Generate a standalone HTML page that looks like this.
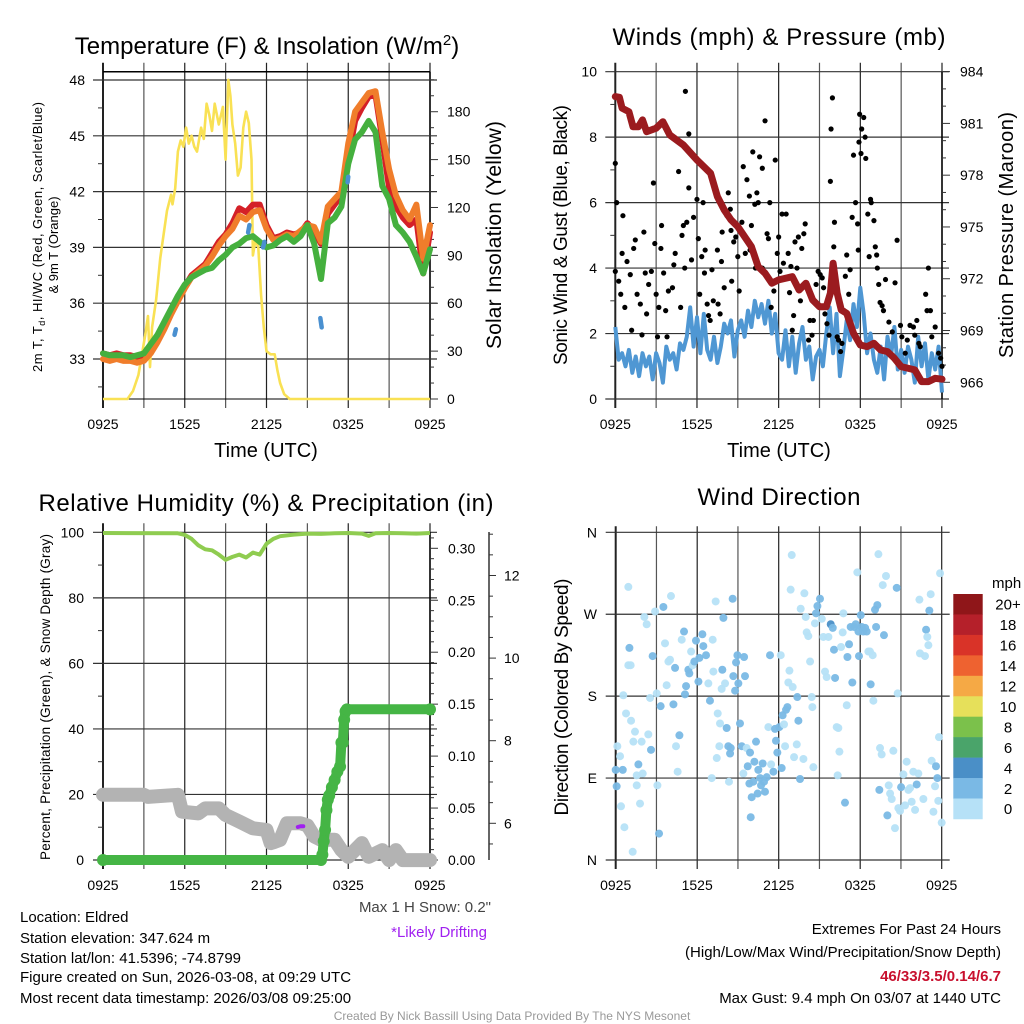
<!DOCTYPE html>
<html><head><meta charset="utf-8">
<style>
html,body{margin:0;padding:0;background:#fff;}
svg{display:block;font-family:"Liberation Sans",Arial,sans-serif;}
</style></head>
<body>
<svg id="fig" width="1024" height="1024" viewBox="0 0 1024 1024" xmlns="http://www.w3.org/2000/svg">
<rect width="1024" height="1024" fill="#fff"/>
<!-- titles -->
<text x="267" y="54" font-size="24" text-anchor="middle">Temperature (F) &amp; Insolation (W/m<tspan dy="-9" font-size="15">2</tspan><tspan dy="9">)</tspan></text>
<text x="779" y="45" font-size="24" text-anchor="middle" textLength="333">Winds (mph) &amp; Pressure (mb)</text>
<text x="266" y="511" font-size="24" text-anchor="middle" textLength="455">Relative Humidity (%) &amp; Precipitation (in)</text>
<text x="779" y="505" font-size="24" text-anchor="middle" textLength="163">Wind Direction</text>
<!-- axis titles -->
<text x="266" y="457" font-size="20" text-anchor="middle">Time (UTC)</text>
<text x="779" y="457" font-size="20" text-anchor="middle">Time (UTC)</text>
<text transform="translate(42,237) rotate(-90)" font-size="13" text-anchor="middle" textLength="270">2m T, T<tspan font-size="9" dy="3">d</tspan><tspan dy="-3">, HI/WC (Red, Green, Scarlet/Blue)</tspan></text>
<text transform="translate(58,245) rotate(-90)" font-size="13" text-anchor="middle">&amp; 9m T (Orange)</text>
<text transform="translate(501,235) rotate(-90)" font-size="21" text-anchor="middle" textLength="228">Solar Insolation (Yellow)</text>
<text transform="translate(567,235) rotate(-90)" font-size="19" text-anchor="middle" textLength="260">Sonic Wind &amp; Gust (Blue, Black)</text>
<text transform="translate(1013,235) rotate(-90)" font-size="20" text-anchor="middle" textLength="246">Station Pressure (Maroon)</text>
<text transform="translate(50,697) rotate(-90)" font-size="13.5" text-anchor="middle" textLength="326">Percent, Precipitation (Green), &amp; Snow Depth (Gray)</text>
<text transform="translate(568,697) rotate(-90)" font-size="19" text-anchor="middle" textLength="237">Direction (Colored By Speed)</text>
<!-- footer text -->
<g font-size="15" fill="#000">
<text x="20" y="922">Location: Eldred</text>
<text x="20" y="943">Station elevation: 347.624 m</text>
<text x="20" y="963">Station lat/lon: 41.5396; -74.8799</text>
<text x="20" y="982">Figure created on Sun, 2026-03-08, at 09:29 UTC</text>
<text x="20" y="1003">Most recent data timestamp: 2026/03/08 09:25:00</text>
<text x="491" y="912" text-anchor="end" fill="#444">Max 1 H Snow: 0.2"</text>
<text x="487" y="937" text-anchor="end" fill="#a020f0">*Likely Drifting</text>
<text x="1001" y="934" text-anchor="end">Extremes For Past 24 Hours</text>
<text x="1001" y="957" text-anchor="end">(High/Low/Max Wind/Precipitation/Snow Depth)</text>
<text x="1001" y="981" text-anchor="end" fill="#c8102e" font-weight="bold">46/33/3.5/0.14/6.7</text>
<text x="1001" y="1003" text-anchor="end">Max Gust: 9.4 mph On 03/07 at 1440 UTC</text>
</g>
<text x="512" y="1020" font-size="12" fill="#999" text-anchor="middle">Created By Nick Bassill Using Data Provided By The NYS Mesonet</text>
</svg>
<script>
// ===== data =====
const xTickLabels = ["0925","1525","2125","0325","0925"];
const halfHours = Array.from({length:49},(_,i)=>i*0.5);
const temp2m = [33.3,33.2,33.3,33.2,33.2,33.1,33.2,33.6,34.2,34.9,35.6,36.3,36.9,37.5,37.8,38.1,38.7,39.3,39.7,40.3,41.1,40.9,41.3,41.3,40.2,39.5,39.6,39.8,39.7,39.8,40.3,39.9,39.2,40.8,41.3,41.8,43.8,45.8,46.5,47.1,47.2,44.8,42.2,41.2,40.6,40.2,40.5,37.6,39.8];
const temp9m = [33.0,32.9,33.0,32.9,32.9,32.8,32.9,33.3,33.9,34.6,35.4,36.1,36.8,37.4,37.7,38.0,38.5,39.1,39.6,40.0,40.7,40.5,40.9,41.0,40.0,39.4,39.5,39.7,39.6,39.9,40.2,40.1,39.3,41.2,41.6,42.0,44.6,46.3,46.8,47.3,47.4,45.2,43.2,41.8,41.0,40.5,41.3,38.4,40.2];
const dewpoint = [33.3,33.2,33.2,33.2,33.1,33.2,33.3,33.8,34.3,35.0,35.7,36.4,37.0,37.4,37.6,37.8,37.9,38.3,38.6,39.0,39.2,39.5,39.6,39.3,39.0,39.1,39.4,39.6,39.3,39.6,40.2,39.2,37.3,40.3,40.6,41.2,43.5,44.8,45.2,45.8,45.2,42.3,41.6,40.2,39.8,39.3,38.5,37.6,38.9];
const hiwcTimes = [5.25,5.35,10.65,10.75,11.75,11.85,15.95,16.05,17.95,18.0];
const hiwcVals = [34.3,34.6,39.8,40.2,39.0,39.3,35.2,34.7,42.5,42.8];
const solarTimes = [0,1.8,2.2,2.6,2.9,3.1,3.3,3.45,3.6,3.9,4.2,4.4,4.7,5.0,5.1,5.3,5.5,5.7,5.9,6.1,6.3,6.5,6.7,6.9,7.2,7.4,7.6,7.8,8.0,8.2,8.5,8.8,9.0,9.2,9.35,9.5,9.7,9.9,10.1,10.3,10.5,10.7,10.9,11.0,11.2,11.4,11.6,11.8,12.0,12.3,12.6,12.8,13.0,13.3,13.7,24];
const solarVals = [0,0,5,15,30,40,52,20,45,62,88,100,118,128,122,132,155,162,158,170,160,165,158,155,170,163,185,178,168,185,172,183,150,200,190,172,160,140,145,170,180,173,150,90,100,95,65,45,30,28,28,18,10,3,0,0];
const tempTicks = [33,36,39,42,45,48];
const solarTicks = [0,30,60,90,120,150,180];

const quarterHours = Array.from({length:97},(_,i)=>i*0.25);
const sonicWind = [2.2,1.2,1.4,1.0,1.5,0.8,1.3,0.7,1.4,1.0,1.3,0.6,1.4,
 1.1,0.5,1.6,1.2,1.4,0.9,1.7,1.5,1.9,2.8,1.6,2.5,
 1.4,2.6,1.5,1.2,1.9,1.1,1.6,2.3,2.0,2.4,1.3,2.1,
 2.4,1.9,2.7,2.2,3.0,2.5,2.9,2.3,3.0,2.0,2.6,1.4,
 1.2,2.1,1.0,1.9,0.8,1.7,2.2,1.2,1.6,0.6,1.3,1.5,
 1.0,2.0,2.8,1.4,2.6,0.7,1.5,2.4,1.8,2.9,2.2,3.4,
 2.6,1.4,2.0,1.2,0.8,1.6,0.6,1.9,1.3,2.2,0.9,1.5,
 0.8,1.6,1.2,0.5,1.9,1.0,1.7,0.6,1.4,0.9,1.6,0.2];
const gustTimes = [0,0.1,0,0.25,0.4,0.56,0.7,0.86,0.5,1.1,1.2,1.35,1.47,1.6,1.84,1.96,2.1,2.2,2.3,2.45,2.65,2.8,2.9,3.0,3.1,3.2,3.35,3.4,3.55,3.7,3.8,3.9,4.2,4.3,4.4,4.65,4.8,4.9,5.0,5.15,5.1,5.25,5.4,5.4,5.6,5.75,6.0,6.1,6.2,6.35,6.45,6.55,6.6,6.75,6.85,6.97,7.1,7.2,7.5,7.55,7.7,7.8,7.85,8.0,8.2,8.3,8.45,8.5,8.55,8.7,8.85,9.0,9.1,9.3,9.4,9.55,9.67,9.85,9.9,10.0,10.1,10.25,10.3,10.4,10.5,10.6,10.8,10.8,11.0,11.15,11.25,11.35,11.45,11.65,11.75,11.9,12.0,12.1,12.25,12.35,12.55,12.7,12.8,12.9,13.0,13.1,13.2,13.35,13.45,13.6,13.7,13.85,13.95,14.1,14.2,14.3,14.45,14.55,14.75,14.9,15.05,15.2,15.3,15.4,15.55,15.7,15.8,15.85,15.95,16.05,16.1,16.3,16.4,16.55,16.65,16.8,16.9,17.0,17.15,17.25,17.4,17.5,17.65,17.8,17.85,17.9,17.95,18.05,18.1,18.25,18.35,18.4,18.55,18.65,18.75,18.8,19.0,19.1,19.2,19.25,19.35,19.45,19.6,19.7,19.85,20.1,20.35,20.55,20.7,20.95,21.05,21.3,21.45,21.65,21.9,22.0,22.15,22.3,22.4,22.8,22.9,23.0,23.15,23.25,23.5,23.75,23.9,24];
const gustVals = [7.2,6.0,3.9,3.6,3.2,5.6,2.8,4.2,4.45,3.8,2.1,4.6,4.86,3.2,2.9,1.96,5.1,3.85,2.6,3.5,3.9,6.6,4.75,3.2,1.9,2.8,4.6,5.3,3.85,2.7,1.9,3.3,3.4,4.1,4.45,6.95,2.8,5.0,5.3,9.4,4.0,5.4,6.45,8.1,4.25,5.55,6.1,4.9,3.2,4.35,6.0,3.85,4.55,2.9,2.55,2.4,3.95,3.0,4.55,2.9,2.6,4.2,5.1,3.4,5.6,6.3,5.8,5.15,3.6,4.8,4.95,4.35,3.3,5.4,7.1,4.45,6.7,6.2,4.55,5.3,7.55,5.95,4.0,6.3,6.0,7.4,4.0,7.05,8.5,5.05,4.9,6.0,2.8,3.3,7.3,4.45,4.95,3.9,5.65,4.15,5.65,4.45,3.25,4.05,2.1,2.55,4.8,4.0,4.95,3.0,4.6,5.05,5.35,3.5,1.8,2.4,1.95,2.4,3.5,3.9,3.8,3.7,3.4,2.6,2.3,1.95,6.65,8.25,9.2,4.65,5.4,1.9,1.8,1.45,1.7,2.7,3.75,4.4,3.2,3.95,5.55,7.45,6.0,5.35,4.55,7.85,8.7,7.5,8.25,8.6,8.0,7.35,5.65,4.35,6.1,6.0,5.45,4.65,4.4,4.0,3.5,2.95,2.85,2.7,3.65,2.35,2.05,3.55,4.85,2.25,1.9,1.4,1.8,2.25,2.2,1.95,2.4,1.7,1.6,3.2,2.7,4.0,2.7,1.9,2.2,1.4,1.25,1.0];
const pressTimes = [0,0.3,0.5,1.0,1.3,1.7,2.0,2.3,3.0,3.5,4.0,5.0,6.0,7.0,7.5,8.0,8.5,9.0,10.0,10.5,11.0,11.5,12.0,13.0,13.5,14.0,14.5,15.0,15.5,15.8,16.0,16.3,16.6,17.0,17.5,18.0,18.5,19.0,19.5,20.0,20.5,21.0,22.0,22.5,23.0,23.5,24.0];
const pressVals = [982.55,982.51,981.88,981.68,980.81,980.81,981.20,980.52,980.72,981.10,980.33,979.75,978.88,978.11,976.76,975.99,975.41,975.02,973.86,972.70,972.32,971.74,971.93,972.12,971.35,971.74,970.77,970.38,970.38,971.16,972.90,971.16,970.19,970.00,968.84,968.16,968.07,968.26,967.87,967.78,967.39,966.91,966.72,966.04,966.04,966.23,966.18];
const windTicks = [0,2,4,6,8,10];
const pressTicks = [966,969,972,975,978,981,984];

const rhTimes = [0,5.5,6,6.5,7,7.5,8,8.5,9,9.5,10,10.5,11,11.5,12,12.5,13,14,15,16,17,18,19,19.5,20,21,22,23,24];
const rhVals = [99.8,99.7,99.2,98,96,94.8,94.5,93.2,91.6,92.5,93.2,92.3,93.8,93.2,96.5,98,98.8,99.3,99.6,99.5,99.7,99.8,99.6,98.9,99.7,99.8,99.7,99.6,99.8];
const precipTimes = [0,16.0,16.1,16.2,16.3,16.4,16.5,16.6,16.8,17.0,17.2,17.4,17.5,17.6,17.7,17.8,17.9,24];
const precipVals = [0,0,0.005,0.018,0.029,0.048,0.058,0.062,0.07,0.077,0.085,0.09,0.113,0.113,0.135,0.143,0.145,0.145];
const snowTimes = [0,3,3.3,5.5,5.8,7.0,7.5,8.5,9,10,11,12,12.3,12.6,13,13.5,14.5,15,15.5,16,17,17.5,18,19,19.5,20.5,21,21.5,22,24];
const snowVals = [6.69,6.69,6.64,6.69,6.28,6.24,6.36,6.36,6.20,6.04,5.88,5.84,5.52,5.55,5.60,6.0,6.0,5.95,5.68,5.60,5.60,5.35,5.19,5.52,5.19,5.35,5.11,5.35,5.11,5.11];
const driftTimes = [14.3,14.5,14.7];
const driftVals = [5.91,5.93,5.93];
const pctTicks = [0,20,40,60,80,100];
const precipTickVals = [0,0.05,0.10,0.15,0.20,0.25,0.30];
const snowTicks = [6,8,10,12];

const dirTimes = [0.93,0.12,0.32,0,0.52,0.07,0.39,0.64,1.25,0.56,0.76,1.13,1.42,1.30,1.01,0.93,1.10,1.67,1.55,1.55,1.79,1.99,1.91,2.11,2.28,2.40,2.60,2.72,2.90,3.02,2.53,3.07,3.19,3.31,3.51,3.63,3.75,3.88,4.0,4.07,4.25,4.37,4.44,4.56,4.69,4.86,5.03,5.10,5.18,5.35,5.42,5.55,5.67,5.79,5.91,6.09,6.16,6.38,6.45,6.65,6.82,6.94,7.07,7.14,7.19,7.36,7.44,7.51,7.63,7.68,7.80,7.93,7.85,8.05,8.17,8.29,8.34,8.42,8.47,8.61,8.66,8.79,8.86,8.96,9.03,9.15,9.28,9.40,9.45,9.52,9.64,9.72,9.84,9.89,9.94,10.01,10.13,10.21,10.33,10.45,10.50,10.63,10.70,10.82,10.92,10.99,11.12,11.24,11.36,11.44,11.61,11.73,11.80,11.90,12.05,12.15,12.22,12.29,12.39,12.47,12.54,12.64,12.79,12.71,12.96,12.88,13.03,13.13,13.33,13.37,13.45,13.57,13.62,13.82,13.89,13.99,14.06,14.18,14.31,14.43,14.48,14.55,14.67,14.75,14.85,15.04,15.17,15.29,15.41,15.53,15.66,15.83,15.98,16.07,16.15,16.27,16.34,16.39,16.47,16.59,16.71,16.76,16.88,17.01,17.06,17.18,17.30,17.42,17.55,17.67,17.79,17.87,17.91,18.04,18.11,18.23,18.36,18.48,18.60,18.72,18.77,18.92,18.97,19.09,19.17,19.26,19.34,19.41,19.46,19.58,19.66,19.75,19.90,20.0,20.10,20.20,20.32,20.44,20.56,20.69,20.76,20.81,20.93,21.01,21.18,21.30,21.42,21.55,21.67,21.79,21.91,22.04,22.16,22.28,22.36,22.40,22.65,22.77,22.85,22.94,23.02,23.09,23.19,23.26,23.39,23.51,23.58,23.68,23.75,23.80,23.88,24.0];
const dirVals = [300,125,114,99,99,81,59,36,9,181,161,153,141,130,233,214,214,105,93,82,62,95,130,267,259,138,121,224,273,183,178,82,29,169,278,238,192,218,220,290,171,211,125,97,137,242,251,182,191,209,205,229,214,218,241,196,222,248,235,225,194,175,90,242,207,284,112,161,125,150,188,266,209,194,145,125,86,117,123,287,202,186,217,225,194,150,125,95,223,202,123,103,84,118,47,69,86,108,130,73,99,90,82,106,86,75,91,146,225,105,97,144,131,118,146,225,101,159,149,125,165,168,208,195,335,297,190,113,127,179,153,89,276,111,293,267,250,246,218,179,168,102,260,271,279,287,265,245,207,201,245,259,255,231,200,146,93,145,119,234,250,271,63,170,223,237,256,195,256,259,316,251,224,269,256,251,255,251,229,229,193,225,175,275,256,280,336,77,123,116,302,247,312,49,82,73,67,120,35,299,183,57,54,80,94,60,108,77,79,64,97,55,83,95,286,227,67,224,253,245,236,274,292,109,53,81,103,90,65,135,315,41];
const dirSpeeds = [1,1,1,3,3,3,1,1,1,1,1,1,1,1,3,1,1,3,1,1,1,1,1,1,1,1,3,3,1,1,1,1,3,3,3,1,1,1,1,1,3,3,1,1,3,1,3,3,3,3,3,1,1,3,3,3,3,3,3,3,1,3,1,1,1,1,1,1,1,1,1,3,3,1,3,3,1,3,3,3,3,3,3,3,3,3,3,1,3,3,1,3,3,3,3,3,3,3,3,3,3,3,3,3,3,3,3,1,3,1,3,3,3,3,3,1,3,3,1,1,3,3,1,1,1,1,1,1,1,3,3,3,1,1,1,1,1,1,1,1,1,1,1,3,3,3,1,1,1,1,1,5,3,3,3,1,1,1,1,1,1,1,3,1,3,3,3,3,3,3,1,3,3,3,3,3,3,3,1,1,3,1,1,3,3,3,1,3,1,1,1,3,1,3,1,1,1,1,1,3,1,1,1,3,1,1,1,1,1,1,1,1,3,1,1,1,1,1,3,1,1,3,1,1,1,1,3,3,1,1,1,1];
const dirTickLabels = ["N","E","S","W","N"];
const dirTickVals = [0,90,180,270,360];
const speedBinLabels = ["20+","18","16","14","12","10","8","6","4","2","0"];
const speedBinColors = ["#8f1619","#b5202a","#d93328","#ee6230","#f5a945","#e6e05a","#7bc14b","#4aa46a","#4a8fc7","#7ab9e5","#b6e1f7"];

// ===== helpers =====
const NS="http://www.w3.org/2000/svg";
const svg=document.getElementById('fig');
function mk(tag,attrs,parent){const e=document.createElementNS(NS,tag);for(const k in attrs)e.setAttribute(k,attrs[k]);(parent||svg).appendChild(e);return e;}
function grp(name){const g=mk('g',{});return g;}
function pts(ts,vs,fx,fy){return ts.map((t,i)=>fx(t).toFixed(1)+','+fy(vs[i]).toFixed(1)).join(' ');}

function frame(P,name){
  const g=grp(name+'-axes');
  const fx=t=>P.x0+t/24*(P.x1-P.x0);
  for(let h=0;h<=24;h+=3){
    const l=mk('line',{x1:fx(h),x2:fx(h),y1:P.y0-(P.topExt||9),y2:P.y1+9,stroke:(h%6===0)?'#222':'#555','stroke-width':(h===0)?2:1.2},g);
    
    
  }
  xTickLabels.forEach((lab,i)=>{
    const t=mk('text',{x:fx(i*6),y:P.y1+30,'font-size':14,'text-anchor':'middle'},g);t.textContent=lab;
    
    
  });
  return {g,fx};
}
function hgrid(g,P,y,ext){const l=mk('line',{x1:P.x0-(ext||10),x2:P.x1+(P.rExt||7),y1:y,y2:y,stroke:'#333','stroke-width':1.2},g);
  
  }
function ylab(g,x,y,txt,anchor,name){const t=mk('text',{x:x,y:y+5,'font-size':14,'text-anchor':anchor},g);t.textContent=txt;
  
  }
function tick(g,x1,x2,y){mk('line',{x1:x1,x2:x2,y1:y,y2:y,stroke:'#333','stroke-width':1},g);}

// ===== Panel 1 =====
const P1={x0:103,x1:430,y0:71.7,y1:399};
(function(){
  const {g,fx}=frame(P1,'temperature-panel');
  const yT=v=>80+(48-v)*18.6, yS=v=>399-v*1.596;
  mk('line',{x1:P1.x0,x2:P1.x1,y1:P1.y0,y2:P1.y0,stroke:'#000','stroke-width':1.5},g);
  mk('line',{x1:P1.x1,x2:P1.x1,y1:P1.y0,y2:P1.y1,stroke:'#000','stroke-width':1.5},g);
  mk('line',{x1:P1.x0,x2:P1.x1,y1:P1.y1,y2:P1.y1,stroke:'#000','stroke-width':1},g);
  tempTicks.forEach(v=>{hgrid(g,P1,yT(v));ylab(g,85,yT(v),String(v),'end','temp-tick-label');tick(g,P1.x0-5,P1.x0,yT(v)+27.9);});
  solarTicks.forEach(v=>{ylab(g,447,yS(v),String(v),'start','solar-tick-label');});
  for(let v=0;v<=200;v+=10){tick(g,P1.x1,P1.x1+(v%30===0?8:4),yS(v));}
  const s=grp('temperature-series');
  const ys=mk('polyline',{points:pts(solarTimes,solarVals,fx,yS),fill:'none',stroke:'#f9e154','stroke-width':2.6,'stroke-linejoin':'round'},s);
  
  
  const r=mk('polyline',{points:pts(halfHours,temp2m,fx,yT),fill:'none',stroke:'#d42027','stroke-width':6,'stroke-linejoin':'round','stroke-linecap':'round'},s);
  
  
  const o=mk('polyline',{points:pts(halfHours,temp9m,fx,yT),fill:'none',stroke:'#f07d2b','stroke-width':6,'stroke-linejoin':'round','stroke-linecap':'round'},s);
  
  
  const gr=mk('polyline',{points:pts(halfHours,dewpoint,fx,yT),fill:'none',stroke:'#45b03e','stroke-width':6,'stroke-linejoin':'round','stroke-linecap':'round'},s);
  
  
  for(let i=0;i<hiwcTimes.length;i+=2){
    const b=mk('line',{x1:fx(hiwcTimes[i]),x2:fx(hiwcTimes[i+1]),y1:yT(hiwcVals[i]),y2:yT(hiwcVals[i+1]),stroke:'#4a90d0','stroke-width':4.5,'stroke-linecap':'round'},s);
    
    
  }
})();

// ===== Panel 2 =====
const P2={x0:615.3,x1:942,y0:71.7,y1:399};
(function(){
  const {g,fx}=frame(P2,'winds-panel');
  const yW=v=>399-v*32.73, yP=p=>382.3-(p-966)*17.26;
  windTicks.forEach(v=>{hgrid(g,P2,yW(v));ylab(g,597,yW(v),String(v),'end','wind-tick-label');if(v<10)tick(g,P2.x0-5,P2.x0,yW(v+1));});
  mk('line',{x1:P2.x1,x2:P2.x1,y1:P2.y0,y2:P2.y1,stroke:'#000','stroke-width':1.5},g);
  pressTicks.forEach(v=>{ylab(g,960,yP(v),String(v),'start','pressure-tick-label');});
  for(let p=966;p<=984;p++){tick(g,P2.x1,P2.x1+((p-966)%3===0?8:4),yP(p));}
  const s=grp('wind-series');
  const b=mk('polyline',{points:pts(quarterHours,sonicWind,fx,yW),fill:'none',stroke:'#4f97d3','stroke-width':4,'stroke-linejoin':'round'},s);
  
  
  gustTimes.forEach((t,i)=>{
    const c=mk('circle',{cx:fx(t),cy:yW(gustVals[i]),r:2.6,fill:'#000'},s);
    
    
  });
  const m=mk('polyline',{points:pts(pressTimes,pressVals,fx,yP),fill:'none',stroke:'#9b1b1f','stroke-width':7,'stroke-linejoin':'round','stroke-linecap':'round'},s);
  
  
})();

// ===== Panel 3 =====
const P3={x0:103,x1:430,y0:532.3,y1:860,topExt:9};
(function(){
  const {g,fx}=frame(P3,'humidity-panel');
  const yR=v=>860-v*3.277, yPr=v=>860-v/0.30*311.7, ySn=v=>823.3-(v-6)*41.3;
  pctTicks.forEach(v=>{hgrid(g,P3,yR(v));ylab(g,84,yR(v),String(v),'end','percent-tick-label');if(v<100)tick(g,P3.x0-5,P3.x0,yR(v+10));});
  mk('line',{x1:P3.x1,x2:P3.x1,y1:P3.y0,y2:P3.y1,stroke:'#000','stroke-width':1.5},g);
  precipTickVals.forEach(v=>{ylab(g,448,yPr(v),v.toFixed(2),'start','precip-tick-label');});
  for(let k=0;k<=31;k++){tick(g,P3.x1,P3.x1+(k%5===0?8:4),yPr(k*0.01));}
  const sg=grp('snow-axis');
  mk('line',{x1:489,x2:489,y1:532,y2:860,stroke:'#333','stroke-width':1.5},sg);
  for(let v=5.5;v<=13;v+=0.5){tick(sg,489,489+(v%2===0?7:4),ySn(v));}
  snowTicks.forEach(v=>{ylab(sg,504,ySn(v),String(v),'start','snow-tick-label');});
  const s=grp('humidity-series');
  const rh=mk('polyline',{points:pts(rhTimes,rhVals,fx,yR),fill:'none',stroke:'#8fcc50','stroke-width':4,'stroke-linejoin':'round'},s);
  
  
  const sn=mk('polyline',{points:pts(snowTimes,snowVals,fx,ySn),fill:'none',stroke:'#b3b3b3','stroke-width':14,'stroke-linejoin':'round','stroke-linecap':'round'},s);
  
  
  const dr=mk('polyline',{points:pts(driftTimes,driftVals,fx,ySn),fill:'none',stroke:'#a020f0','stroke-width':4,'stroke-linecap':'round'},s);
  
  
  const pr=mk('polyline',{points:pts(precipTimes,precipVals,fx,yPr),fill:'none',stroke:'#45b545','stroke-width':10,'stroke-linejoin':'round','stroke-linecap':'round'},s);
  
  
  precipTimes.forEach((t,i)=>{
    const c=mk('circle',{cx:fx(t),cy:yPr(precipVals[i]),r:6,fill:'#45b545'},s);
    
    
  });
})();

// ===== Panel 4 =====
const P4={x0:615.7,x1:941.7,y0:532.3,y1:860,topExt:6,rExt:8};
(function(){
  const {g,fx}=frame(P4,'wind-direction-panel');
  const yD=d=>860-d/360*327.7;
  dirTickVals.forEach((d,i)=>{hgrid(g,P4,yD(d),10);ylab(g,597,yD(d),dirTickLabels[i],'end','direction-tick-label');});
  const s=grp('direction-series');
  function colorFor(sp){const bin=Math.min(10,Math.floor(sp/2));return speedBinColors[10-bin];}
  dirTimes.forEach((t,i)=>{
    const c=mk('circle',{cx:fx(t),cy:yD(dirVals[i]),r:4,fill:colorFor(dirSpeeds[i]),'fill-opacity':0.95},s);
    
    
  });
  const cb=grp('speed-colorbar');
  const top=594,h=20.45;
  speedBinLabels.forEach((lab,i)=>{
    const r=mk('rect',{x:953.3,y:top+i*h,width:29.4,height:h+0.3,fill:speedBinColors[i]},cb);
    
    
    const t=mk('text',{x:1008,y:top+i*h+h/2+5.5,'font-size':15,'text-anchor':'middle'},cb);t.textContent=lab;
    
    
  });
  const u=mk('text',{x:992,y:588,'font-size':15},cb);u.textContent='mph';
  
  
})();
</script>
</body></html>
